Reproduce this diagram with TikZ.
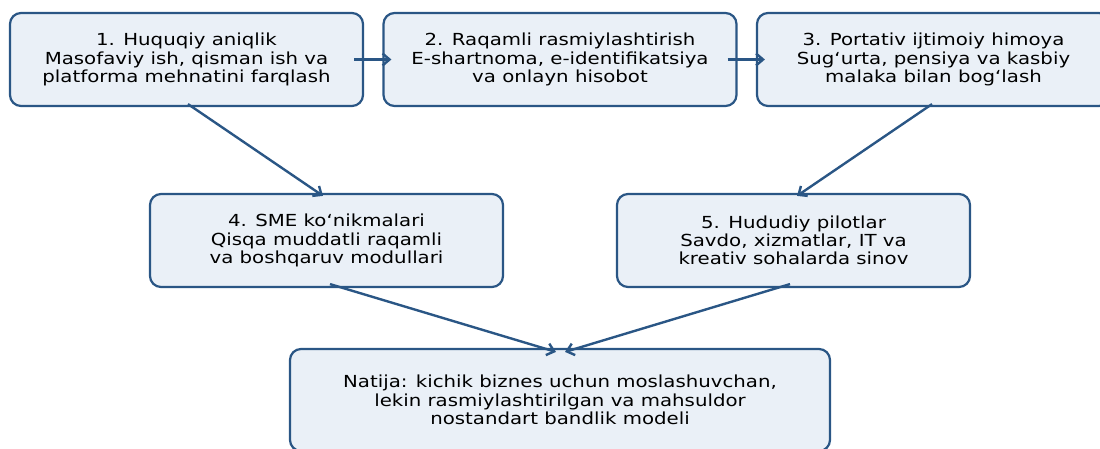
\documentclass[tikz,border=0pt]{standalone}
\usepackage{fontspec}
\setmainfont{DejaVu Sans}[FakeStretch=1.19]
\usetikzlibrary{arrows.meta}
\definecolor{boxline}{HTML}{2A5685}
\definecolor{boxfill}{HTML}{EAF0F7}

\begin{document}
\begin{tikzpicture}[x=1pt, y=-1pt,
  box/.style={draw=boxline, fill=boxfill, line width=2.2pt, rounded corners=11pt,
    minimum width=353pt, minimum height=93pt, inner sep=0pt, align=center,
    font=\fontsize{16.6}{18.2}\selectfont},
  link/.style={draw=boxline, line width=2.4pt, -{Straight Barb[length=7pt,width=12pt]}}]
\useasboundingbox (0,0) rectangle (1100,448);
\clip (0,0) rectangle (1100,448);
\node[box](legal) at (186.5,59.5) {1. Huquqiy aniqlik\\Masofaviy ish, qisman ish va\\platforma mehnatini farqlash};
\node[box](digital) at (560,59.5) {2. Raqamli rasmiylashtirish\\E-shartnoma, e-identifikatsiya\\va onlayn hisobot};
\node[box](portable) at (933.5,59.5) {3. Portativ ijtimoiy himoya\\Sug‘urta, pensiya va kasbiy\\malaka bilan bog‘lash};
\node[box](sme) at (326.5,240.5) {4. SME ko‘nikmalari\\Qisqa muddatli raqamli\\va boshqaruv modullari};
\node[box](pilots) at (793.5,240.5) {5. Hududiy pilotlar\\Savdo, xizmatlar, IT va\\kreativ sohalarda sinov};
\node[box, minimum width=540pt, minimum height=102pt](result) at (560,400) {Natija: kichik biznes uchun moslashuvchan,\\lekin rasmiylashtirilgan va mahsuldor\\nostandart bandlik modeli};
%
\draw[link] ([xshift=-10pt]legal.east) -- ([xshift=9pt]digital.west);
\draw[link] ([xshift=-10pt]digital.east) -- ([xshift=9pt]portable.west);
\draw[link] ([xshift=1.5pt, yshift=3pt]legal.south) -- ([xshift=-3.5pt, yshift=-3pt]sme.north);
\draw[link] ([xshift=-1.5pt, yshift=3pt]portable.south) -- ([xshift=3.5pt, yshift=-3pt]pilots.north);
\draw[link] ([xshift=3.5pt, yshift=4pt]sme.south) -- ([xshift=-4pt, yshift=-4pt]result.north);
\draw[link] ([xshift=-3.5pt, yshift=4pt]pilots.south) -- ([xshift=5pt, yshift=-4pt]result.north);
\end{tikzpicture}
\end{document}
